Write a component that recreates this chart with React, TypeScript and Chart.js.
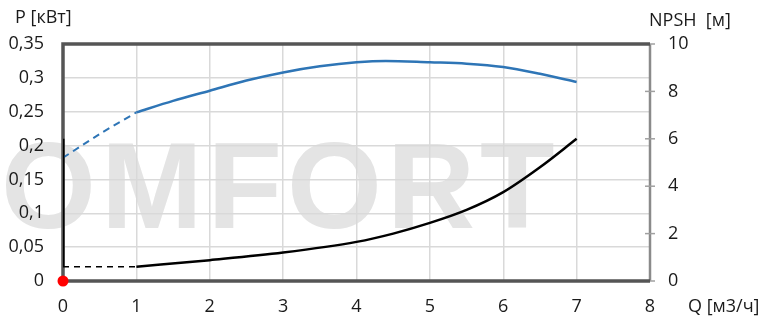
import React, { useEffect, useRef } from "react";
import { Chart, registerables } from "chart.js";

Chart.register(...registerables);

const xTicks = [0, 1, 2, 3, 4, 5, 6, 7, 8];
const y2Ticks = [0, 2, 4, 6, 8, 10];
const powerDashedQ = [0, 0.5, 1];
const powerDashedP = [0.182, 0.217, 0.249];
const powerQ = [1, 1.5, 2, 2.5, 3, 3.5, 4, 4.4, 5, 5.5, 6, 6.5, 7];
const powerP = [0.249, 0.266, 0.281, 0.296, 0.308, 0.317, 0.323, 0.325, 0.323, 0.321, 0.316, 0.306, 0.294];
const npshDashedQ = [0, 1];
const npshDashedH = [0.6, 0.6];
const npshQ = [1, 2, 3, 4, 4.5, 5, 5.5, 6, 6.5, 7];
const npshH = [0.6, 0.88, 1.2, 1.65, 2.0, 2.45, 3.0, 3.75, 4.8, 6.0];
const npshVertQ = [0, 0];
const npshVertH = [0.6, 6.0];
const originQ = [0];
const originP = [0];

const FONT = "'Open Sans', sans-serif";
const pts = (xs: number[], ys: number[]) => xs.map((x, i) => ({ x, y: ys[i] }));

const decorPlugin = {
  id: "decor",
  beforeDraw(chart: any) {
    const ctx = chart.ctx;
    ctx.save();
    ctx.fillStyle = "#ffffff";
    ctx.fillRect(0, 0, chart.width, chart.height);
    ctx.fillStyle = "#e4e4e4";
    ctx.font = "bold 122px 'Liberation Sans', Arial, sans-serif";
    ctx.textBaseline = "alphabetic";
    const sp = 5;
    try {
      (ctx as any).letterSpacing = sp + "px";
    } catch (e) {}
    ctx.textAlign = "left";
    ctx.fillText("OMFORT", 1, 228);
    ctx.textAlign = "right";
    ctx.fillText("C", 1 - sp, 228);
    ctx.restore();
  },
  beforeDatasetsDraw(chart: any) {
    const ctx = chart.ctx;
    const a = chart.chartArea;
    ctx.save();
    ctx.strokeStyle = "#8a8a8a";
    ctx.lineWidth = 2.5;
    ctx.beginPath();
    ctx.moveTo(a.right, a.top);
    ctx.lineTo(a.right, a.bottom);
    ctx.stroke();
    const y2 = chart.scales.y2;
    ctx.strokeStyle = "#a0a0a0";
    ctx.lineWidth = 1.5;
    for (const v of y2Ticks) {
      const yy = y2.getPixelForValue(v);
      ctx.beginPath();
      ctx.moveTo(a.right - 5, yy);
      ctx.lineTo(a.right + 5, yy);
      ctx.stroke();
    }
    ctx.strokeStyle = "#555555";
    ctx.lineWidth = 3.5;
    ctx.beginPath();
    ctx.moveTo(a.right, a.top);
    ctx.lineTo(a.left, a.top);
    ctx.lineTo(a.left, a.bottom);
    ctx.lineTo(a.right, a.bottom);
    ctx.stroke();
    ctx.restore();
  },
  afterDraw(chart: any) {
    const ctx = chart.ctx;
    const a = chart.chartArea;
    ctx.save();
    ctx.fillStyle = "#1a1a1a";
    ctx.font = "18px " + FONT;
    ctx.textBaseline = "middle";
    ctx.textAlign = "left";
    ctx.fillText("P [кВт]", 15, 18);
    ctx.fillText("NPSH  [м]", 649, 21);
    ctx.fillText("Q [м3/ч]", 688, 307);
    // x tick labels
    const xs = chart.scales.x;
    ctx.textAlign = "center";
    for (const v of xTicks) {
      ctx.fillText(String(v), xs.getPixelForValue(v), a.bottom + 26);
    }
    // right axis tick labels
    const y2 = chart.scales.y2;
    ctx.textAlign = "left";
    for (const v of y2Ticks) {
      ctx.fillText(String(v), a.right + 18, y2.getPixelForValue(v));
    }
    ctx.restore();
  },
};

export default function App() {
  const ref = useRef<HTMLCanvasElement>(null);
  useEffect(() => {
    if (!ref.current) return;
    const tickFont = { family: FONT, size: 18 };
    const chart = new Chart(ref.current, {
      type: "line",
      data: {
        datasets: [
          {
            data: pts(npshVertQ, npshVertH),
            yAxisID: "y2",
            borderColor: "#000000",
            borderWidth: 3,
            pointRadius: 0,
          },
          {
            data: pts(powerDashedQ, powerDashedP),
            yAxisID: "y",
            borderColor: "#2e75b6",
            borderWidth: 2,
            borderDash: [7, 5],
            pointRadius: 0,
            tension: 0.3,
          },
          {
            data: pts(powerQ, powerP),
            yAxisID: "y",
            borderColor: "#2e75b6",
            borderWidth: 2.5,
            pointRadius: 0,
            cubicInterpolationMode: "monotone",
          },
          {
            data: pts(npshDashedQ, npshDashedH),
            yAxisID: "y2",
            borderColor: "#000000",
            borderWidth: 1.5,
            borderDash: [6, 5],
            pointRadius: 0,
          },
          {
            data: pts(npshQ, npshH),
            yAxisID: "y2",
            borderColor: "#000000",
            borderWidth: 2.5,
            pointRadius: 0,
            cubicInterpolationMode: "monotone",
          },
          {
            data: pts(originQ, originP),
            yAxisID: "y",
            borderColor: "#ff0000",
            backgroundColor: "#ff0000",
            pointRadius: 5.5,
            pointBorderWidth: 0,
            showLine: false,
            clip: false,
          },
        ] as any,
      },
      options: {
        animation: false,
        responsive: false,
        devicePixelRatio: 1,
        layout: { padding: { top: 44, left: 0, right: 0, bottom: 0 } },
        plugins: { legend: { display: false }, tooltip: { enabled: false } },
        scales: {
          x: {
            type: "linear",
            min: 0,
            max: 8,
            afterBuildTicks: (s: any) => {
              s.ticks = xTicks.map((v) => ({ value: v }));
            },
            afterFit: (s: any) => {
              s.height = 35;
            },
            grid: { color: "#d9d9d9", lineWidth: 1.5, drawTicks: false },
            border: { display: false },
            ticks: { display: false },
          },
          y: {
            type: "linear",
            position: "left",
            min: 0,
            max: 0.35,
            afterFit: (s: any) => {
              s.width = 63;
            },
            grid: { color: "#d9d9d9", lineWidth: 1.5, drawTicks: false },
            border: { display: false },
            ticks: {
              stepSize: 0.05,
              font: tickFont,
              color: "#1a1a1a",
              padding: 19,
              callback: (v: any) => (Math.round(Number(v) * 100) / 100).toString().replace(".", ","),
            },
          },
          y2: {
            type: "linear",
            position: "right",
            min: 0,
            max: 10,
            afterFit: (s: any) => {
              s.width = 111;
            },
            grid: { display: false, drawOnChartArea: false },
            border: { display: false },
            ticks: { display: false },
          },
        },
      } as any,
      plugins: [decorPlugin],
    });
    return () => chart.destroy();
  }, []);
  return (
    <div style={{ position: "absolute", left: 0, top: 0, width: 761, height: 316 }}>
      <canvas ref={ref} width={761} height={316} />
    </div>
  );
}
